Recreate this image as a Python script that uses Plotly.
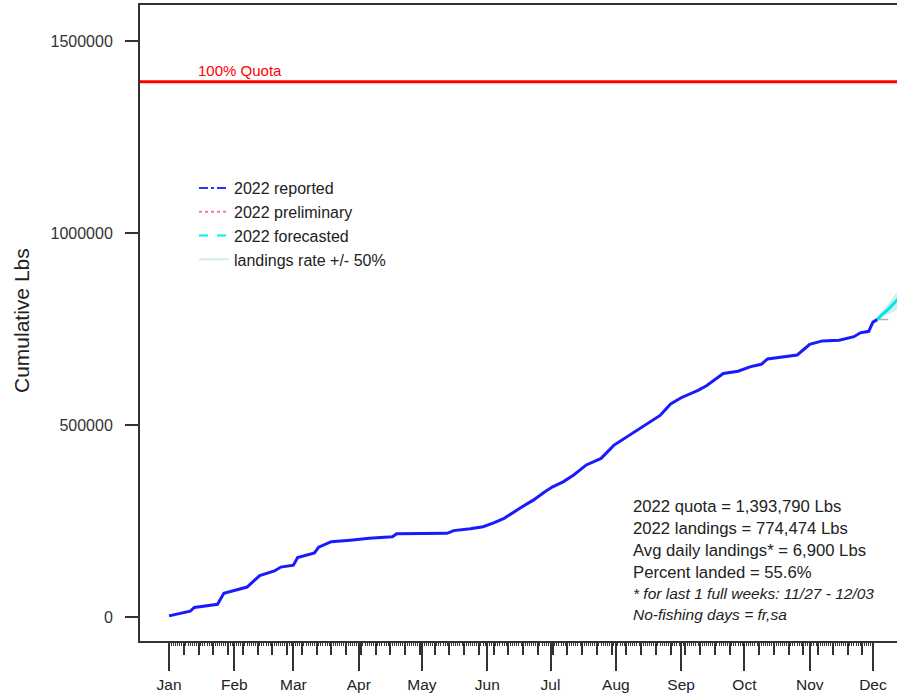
import plotly.graph_objects as go
import pandas as pd

# ---------------- data ----------------
reported_dates = ["2022-01-01", "2022-01-06", "2022-01-11", "2022-01-13", "2022-01-24", "2022-01-27",
                  "2022-02-04", "2022-02-07", "2022-02-13", "2022-02-20", "2022-02-23", "2022-03-01",
                  "2022-03-03", "2022-03-11", "2022-03-13", "2022-03-19", "2022-03-28", "2022-04-06",
                  "2022-04-17", "2022-04-19", "2022-05-13", "2022-05-16", "2022-05-24", "2022-05-30",
                  "2022-06-04", "2022-06-09", "2022-06-17", "2022-06-23", "2022-06-28", "2022-07-02",
                  "2022-07-07", "2022-07-12", "2022-07-18", "2022-07-25", "2022-07-31", "2022-08-06",
                  "2022-08-12", "2022-08-16", "2022-08-22", "2022-08-27", "2022-09-01", "2022-09-09",
                  "2022-09-13", "2022-09-21", "2022-09-28", "2022-10-04", "2022-10-09", "2022-10-12",
                  "2022-10-20", "2022-10-26", "2022-10-29", "2022-11-01", "2022-11-07", "2022-11-15",
                  "2022-11-22", "2022-11-25", "2022-11-29", "2022-12-01", "2022-12-03"]
reported_lbs = [3000, 10000, 15000, 25000, 33000, 62000,
                75000, 78000, 108000, 120000, 130000, 135000,
                155000, 167000, 182000, 196000, 200000, 205000,
                209000, 217000, 218000, 225000, 230000, 235000,
                245000, 257000, 285000, 305000, 325000, 339000,
                352000, 370000, 396000, 413000, 447000, 468000,
                490000, 505000, 525000, 555000, 571000, 590000,
                602000, 634000, 640000, 652000, 658000, 672000,
                678000, 682000, 696000, 710000, 719000, 721000,
                730000, 740000, 744000, 768000, 774474]

forecast_dates = ["2022-12-03", "2022-12-05", "2022-12-08", "2022-12-10", "2022-12-12", "2022-12-14"]
forecast_lbs = [774474, 786000, 800000, 811000, 822000, 834000]
band_upper = [774474, 792000, 812000, 828000, 842000, 856000]
band_lower = [774474, 780000, 788000, 794000, 800000, 806000]

flat_dates = ["2022-12-04", "2022-12-31"]
flat_lbs = [774474, 774474]

quota = 1393790

stats_lines = ["2022 quota = 1,393,790 Lbs",
               "2022 landings = 774,474 Lbs",
               "Avg daily landings* = 6,900 Lbs",
               "Percent landed = 55.6%",
               "<i>* for last 1 full weeks: 11/27 - 12/03</i>",
               "<i>No-fishing days = fr,sa</i>"]

month_ticks = pd.date_range("2022-01-01", "2022-12-01", freq="MS")
month_labels = [d.strftime("%b") for d in month_ticks]
week_ticks = pd.date_range("2022-01-08", "2022-11-26", freq="7D")
day_ticks = pd.date_range("2022-01-01", "2022-12-01", freq="D")

# ---------------- geometry ----------------
W, H = 897, 696
L, R, T, B = 140, 0, 5, 55
pw, ph = W - L - R, H - T - B
def px(xp):
    return (xp - L) / pw
def py(yp):
    return (H - B - yp) / ph

x_range = ["2021-12-18 05:00", "2022-12-12 10:00"]
y_range = [-62500, 1593750]

FONT = "Liberation Sans, Arial, sans-serif"
AX = "#333333"

fig = go.Figure()

# band (landings rate +/- 50%)
fig.add_trace(go.Scatter(x=forecast_dates, y=band_lower, mode="lines",
                         line=dict(color="rgba(200,238,238,1)", width=1),
                         showlegend=False, hoverinfo="skip"))
fig.add_trace(go.Scatter(x=forecast_dates, y=band_upper, mode="lines", fill="tonexty",
                         fillcolor="rgba(205,240,240,1)",
                         line=dict(color="rgba(200,238,238,1)", width=1),
                         showlegend=False, hoverinfo="skip"))
# flat gray dashed
fig.add_trace(go.Scatter(x=flat_dates, y=flat_lbs, mode="lines",
                         line=dict(color="#b0b0b0", width=1.5, dash="dash"),
                         showlegend=False, hoverinfo="skip"))
# forecast
fig.add_trace(go.Scatter(x=forecast_dates, y=forecast_lbs, mode="lines",
                         line=dict(color="#00e5ee", width=3),
                         showlegend=False, hoverinfo="skip"))
# reported
fig.add_trace(go.Scatter(x=reported_dates, y=reported_lbs, mode="lines",
                         line=dict(color="#1a1aff", width=3),
                         showlegend=False, hoverinfo="skip"))

# legend entries
fig.add_trace(go.Scatter(x=[None], y=[None], mode="lines", name="2022 reported",
                         line=dict(color="#3030ff", width=2, dash="dashdot")))
fig.add_trace(go.Scatter(x=[None], y=[None], mode="lines", name="2022 preliminary",
                         line=dict(color="#ff6fa8", width=2, dash="dot")))
fig.add_trace(go.Scatter(x=[None], y=[None], mode="lines", name="2022 forecasted",
                         line=dict(color="#00f0f0", width=2, dash="dash")))
fig.add_trace(go.Scatter(x=[None], y=[None], mode="lines", name="landings rate +/- 50%",
                         line=dict(color="#d2eeee", width=2)))

# dummy traces for extra tick axes
fig.add_trace(go.Scatter(x=[week_ticks[0]], y=[None], xaxis="x2", showlegend=False, hoverinfo="skip"))
fig.add_trace(go.Scatter(x=[day_ticks[0]], y=[None], xaxis="x3", showlegend=False, hoverinfo="skip"))

# quota line
fig.add_hline(y=quota, line=dict(color="#ff0000", width=3), layer="above")

annotations = [
    dict(text="100% Quota", xref="paper", yref="y", x=px(196), y=quota, xanchor="left",
         yanchor="bottom", yshift=1, showarrow=False, font=dict(size=15, color="#ff0000", family=FONT)),
    dict(text="Cumulative Lbs", xref="paper", yref="paper", x=px(22), y=py(320), textangle=-90,
         xanchor="center", yanchor="middle", showarrow=False, font=dict(size=21, color="#222222", family=FONT)),
]
stat_y = [506, 528, 550, 572, 593, 614]
for txt, yy in zip(stats_lines, stat_y):
    small = txt.startswith("<i>")
    annotations.append(dict(text=txt, xref="paper", yref="paper", x=px(631), y=py(yy),
                            xanchor="left", yanchor="middle", showarrow=False,
                            font=dict(size=15.5 if small else 16.7, color="#222222", family=FONT)))

common_x = dict(type="date", range=x_range, showgrid=False, zeroline=False, fixedrange=True)

fig.update_layout(
    width=W, height=H,
    margin=dict(l=L, r=R, t=T, b=B),
    plot_bgcolor="white", paper_bgcolor="white",
    font=dict(family=FONT, color="#222222"),
    xaxis=dict(**common_x, showline=True, linecolor=AX, linewidth=2, mirror=True,
               ticks="outside", ticklen=28, tickwidth=1.5, tickcolor=AX,
               tickvals=list(month_ticks), ticktext=month_labels,
               tickfont=dict(size=15.5, color="#222222", family=FONT), ticklabelstandoff=0),
    xaxis2=dict(**common_x, overlaying="x", anchor="y", side="bottom", showline=False,
                ticks="outside", ticklen=13, tickwidth=1.5, tickcolor=AX,
                tickvals=list(week_ticks), showticklabels=False),
    xaxis3=dict(**common_x, overlaying="x", anchor="y", side="bottom", showline=False,
                ticks="outside", ticklen=4, tickwidth=1, tickcolor=AX,
                tickvals=list(day_ticks), showticklabels=False),
    yaxis=dict(range=y_range, showgrid=False, zeroline=False, showline=True, linecolor=AX,
               linewidth=2, ticks="outside", ticklen=13, tickwidth=1.5, tickcolor=AX,
               tickvals=[0, 500000, 1000000, 1500000],
               ticktext=["0", "500000", "1000000", "1500000"],
               tickfont=dict(size=16, color="#333333", family=FONT), ticklabelstandoff=9,
               fixedrange=True),
    legend=dict(x=px(194), y=py(171), xanchor="left", yanchor="top", bgcolor="rgba(0,0,0,0)",
                borderwidth=0, font=dict(size=16, color="#222222", family=FONT),
                tracegroupgap=0, itemwidth=30, traceorder="normal"),
    annotations=annotations,
    showlegend=True,
)

fig.write_html("out.html", config={"displayModeBar": False},
               post_script="document.body.style.margin='0';")
